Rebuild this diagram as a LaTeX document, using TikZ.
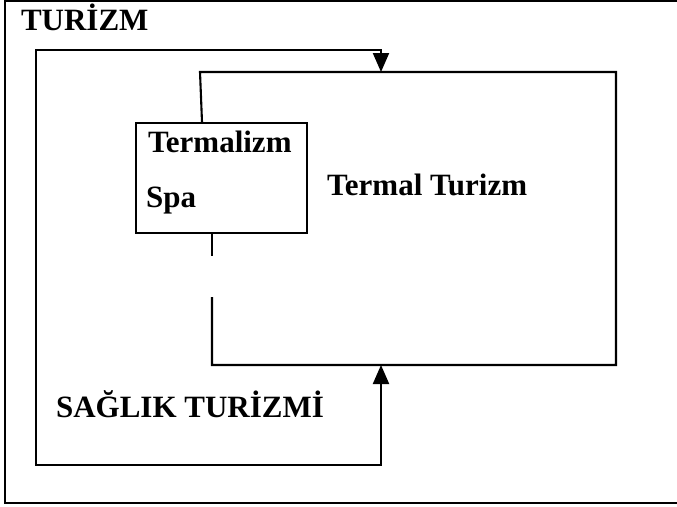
\documentclass[tikz,border=0pt]{standalone}
\usepackage{fontspec}
\setmainfont{Liberation Serif}
\usetikzlibrary{arrows.meta}
\begin{document}
\begin{tikzpicture}[x=1pt,y=-1pt,line width=2.1pt,
  lbl/.style={anchor=base west,inner sep=0pt,font=\fontsize{31}{37}\selectfont\bfseries},
  boxstyle/.style={draw,anchor=north west,inner sep=0pt,minimum width=171pt,minimum height=110pt},
  tipboth/.style={{Triangle[width=16pt,length=19pt]}-{Triangle[width=16pt,length=19pt]}}]
\useasboundingbox (0,0) rectangle (677,506);
% outer frame
\coordinate (fr1) at (677,1.2);
\coordinate (fr2) at (5,1.2);
\coordinate (fr3) at (5,503);
\coordinate (fr4) at (677,503);
\draw (fr1) -- (fr2) -- (fr3) -- (fr4);
\node[lbl] (turizm) at (20,30) {TURİZM};
% Termalizm / Spa box
\node[boxstyle] (box) at (135,122) {};
\node[lbl] (termalizm) at (147,152) {Termalizm};
\node[lbl] (spa) at (145,207) {Spa};
% Termal Turizm region
\coordinate (tb) at (202,122);
\coordinate (tl) at (200,72);
\coordinate (tr) at (616,72);
\coordinate (br) at (616,365);
\coordinate (bl) at (212,365);
\coordinate (gapA) at (212,297);
\coordinate (dashA) at (212,232);
\coordinate (dashB) at (212,256);
\draw (tb) -- (tl) -- (tr) -- (br) -- (bl) -- (gapA);
\draw (dashA) -- (dashB);
\node[lbl] (termal) at (326,195) {Termal Turizm};
% Sağlık turizmi loop
\coordinate (arrUp) at (381,365);
\coordinate (arrDown) at (381,72);
\coordinate (l1) at (381,465);
\coordinate (l2) at (36,465);
\coordinate (l3) at (36,50);
\coordinate (l4) at (381,50);
\draw[tipboth] (arrUp) -- (l1) -- (l2) -- (l3) -- (l4) -- (arrDown);
\node[lbl] (saglik) at (55,417) {SAĞLIK TURİZMİ};
\end{tikzpicture}
\end{document}
